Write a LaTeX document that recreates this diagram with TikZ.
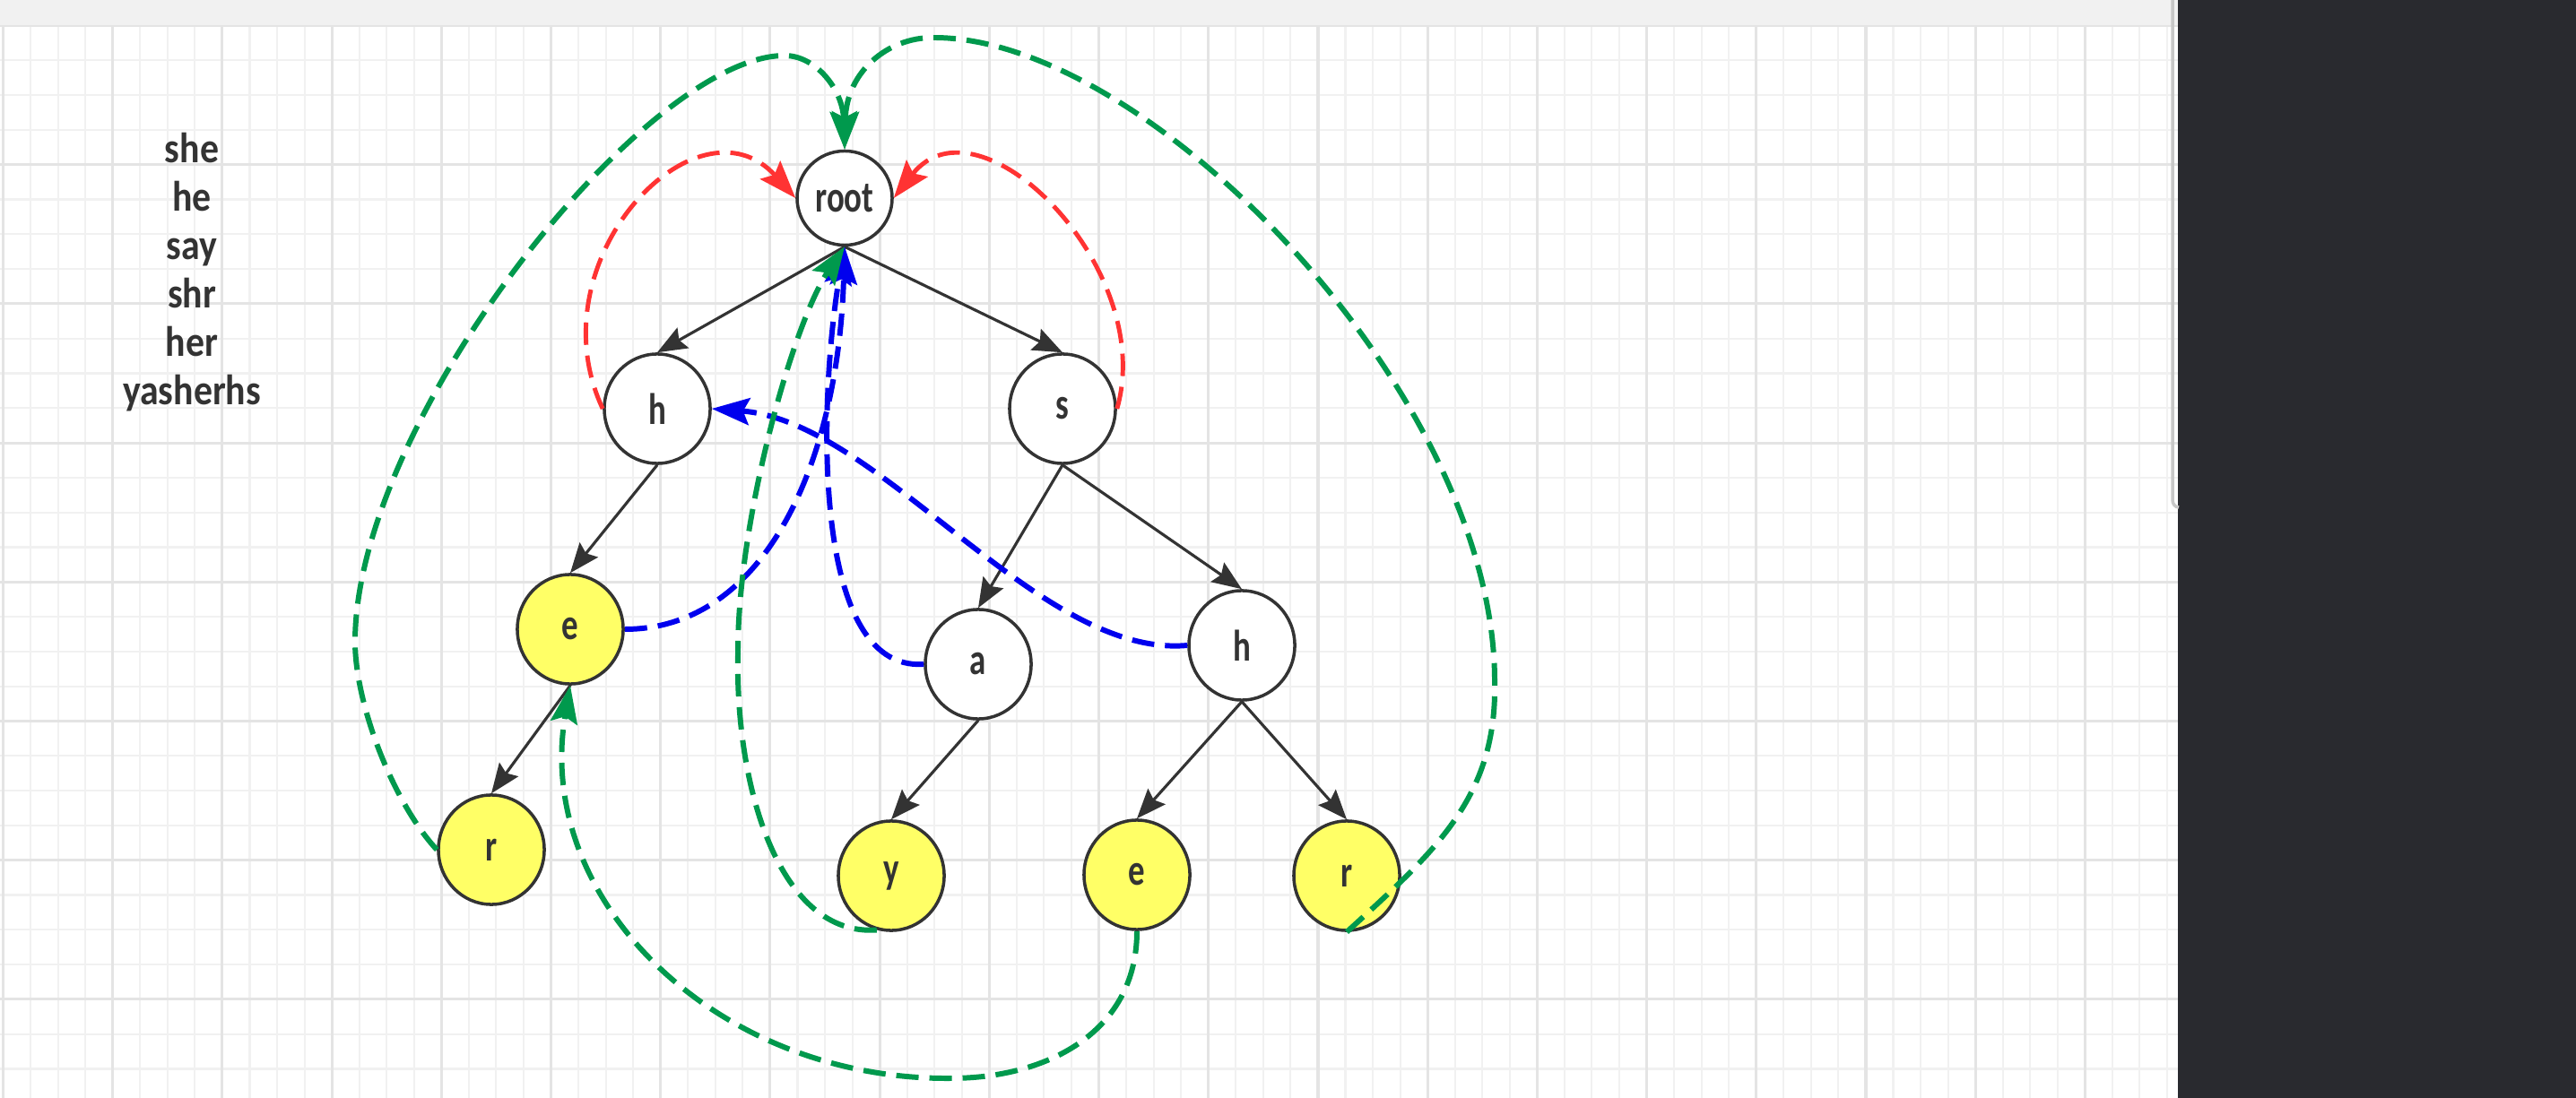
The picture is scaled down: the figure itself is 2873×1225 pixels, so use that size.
\documentclass[tikz,border=0pt]{standalone}
\usepackage{fontspec}
\setmainfont{Carlito}
\newfontfamily\wordfont{Carlito}[FakeStretch=0.88]
\newfontfamily\labelfont{Carlito}[FakeStretch=0.75]
\usetikzlibrary{arrows.meta,shapes}

\definecolor{gridfine}{HTML}{F1F1F1}
\definecolor{gridbold}{HTML}{E4E4E4}
\definecolor{topbar}{HTML}{F1F1F1}
\definecolor{darkpane}{HTML}{292A2F}
\definecolor{ink}{HTML}{333333}
\definecolor{failgreen}{HTML}{00994D}
\definecolor{failred}{HTML}{FF3333}
\definecolor{failblue}{HTML}{0000EE}
\definecolor{wordend}{HTML}{FFFF66}

\begin{document}
\begin{tikzpicture}[x=0.01cm, y=-0.01cm,
    every node/.style={font=\labelfont\bfseries\fontsize{14}{16}\selectfont, text=ink},
    trie/.style={draw=ink, line width=1pt, ellipse, minimum width=1.18cm, minimum height=1.22cm, inner sep=0pt, fill=white},
    endword/.style={trie, fill=wordend},
    edge/.style={draw=ink, line width=0.9pt, -{Stealth[length=0.33cm, width=0.26cm, inset=0.05cm]}},
    fail/.style={line width=1.7pt, dash pattern=on 0.25cm off 0.12cm, -{Stealth[length=0.42cm, width=0.3cm, inset=0.07cm]}}]
    \useasboundingbox (0,0) rectangle (2873,1225);
    % canvas
    \fill[white] (0,0) rectangle (2873,1225);
    \fill[topbar] (0,0) rectangle (2429,28.5);
    \begin{scope}
        \clip (0,28.5) rectangle (2429,1225);
        \foreach \i in {0,...,79} \draw[gridfine, line width=0.6pt] ({3.5+30.55*\i},28.5) -- ++(0,1200);
        \foreach \j in {0,...,30} \draw[gridfine, line width=0.6pt] (0,{28.5+38.8*\j}) -- ++(2429,0);
        \foreach \i in {0,...,19} \draw[gridbold, line width=0.9pt] ({3.5+122.2*\i},28.5) -- ++(0,1200);
        \foreach \j in {0,...,7} \draw[gridbold, line width=0.9pt] (0,{28.5+155.2*\j}) -- ++(2429,0);
    \end{scope}
    \fill[darkpane] (2429,0) rectangle (2873,1225);
    \draw[black!22, line width=0.035cm] (2423,0) -- (2423,558) to[out=-90,in=180] (2430,566);

    % pattern list
    \node[font=\wordfont\bfseries\fontsize{13.5}{15.4}\selectfont, align=center, anchor=north, inner sep=0pt] (words) at (214,147) {she\\he\\say\\shr\\her\\yasherhs};

    % trie
    \node[trie, minimum width=1.06cm, minimum height=1.05cm] (root) at (942,221) {root};
    \node[trie] (h) at (733,456) {h};
    \node[trie] (s) at (1185,456) {s};
    \node[endword] (he) at (636,702) {e};
    \node[trie] (sa) at (1091,741) {a};
    \node[trie] (sh) at (1385,720) {h};
    \node[endword] (her) at (548,948) {r};
    \node[endword] (say) at (994,977) {y};
    \node[endword] (she) at (1268,976) {e};
    \node[endword] (shr) at (1502,977) {r};

    \draw[edge] (root.south) -- (h.north);
    \draw[edge] (root.south) -- (s.north);
    \draw[edge] (h.south) -- (he.north);
    \draw[edge] (he.south) -- (her.north);
    \draw[edge] (s.south) -- (sa.north);
    \draw[edge] (s.south) -- (sh.north);
    \draw[edge] (sa.south) -- (say.north);
    \draw[edge] (sh.south) -- (she.north);
    \draw[edge] (sh.south) -- (shr.north);

    % fail links
    \coordinate (herlow) at (396,716);
    \coordinate (hertop) at (875,62);
    \coordinate (shrside) at (1667,760);
    \coordinate (shrtop) at (1040,42);
    \coordinate (saylow) at (823,730);
    \coordinate (shebottom) at (1060,1203);

    \draw[fail, failred, line width=1.4pt] (h.west) .. controls +(-78,-166) and +(-109,-121) .. (root.west);
    \draw[fail, failred, line width=1.4pt] (s.east) .. controls +(45,-156) and +(95,-121) .. (root.east);

    \draw[fail, failblue] (he.east) .. controls +(155,0) and +(-7,243) .. (root.south);
    \draw[fail, failblue] (sa.west) .. controls (900,750) and (915,430) .. (root.south);
    \draw[fail, failblue] (sh.west) .. controls +(-166,15) and +(187,14) .. (h.east);

    \draw[fail, failgreen] (her.west) .. controls (439,896) and (396,786) .. (herlow)
        .. controls (396,470) and (720,62) .. (hertop) .. controls (910,62) and (940,100) .. (root.north);
    \draw[fail, failgreen] (shr.south) .. controls (1600,950) and (1670,890) .. (shrside)
        .. controls (1667,440) and (1280,40) .. (shrtop) .. controls (990,42) and (944,80) .. (root.north);
    \draw[fail, failgreen] (say.255) .. controls (870,1045) and (820,880) .. (saylow)
        .. controls (822,580) and (885,360) .. (root.south);
    \draw[fail, failgreen] (she.south) .. controls (1268,1150) and (1170,1203) .. (shebottom)
        .. controls (800,1205) and (595,1005) .. (he.south);
\end{tikzpicture}
\end{document}
